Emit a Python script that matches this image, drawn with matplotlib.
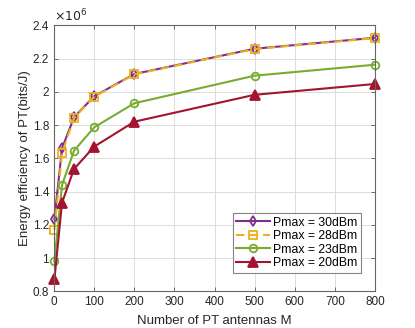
import matplotlib.pyplot as plt
from matplotlib.ticker import FuncFormatter

# Number of PT antennas
antennas = [1, 20, 50, 100, 200, 500, 800]

# Energy efficiency (x 10^6 bits/J)
ee_30dbm = [1.233, 1.66, 1.847, 1.973, 2.107, 2.259, 2.325]
ee_28dbm = [1.169, 1.63, 1.843, 1.970, 2.105, 2.257, 2.323]
ee_23dbm = [0.98, 1.44, 1.646, 1.786, 1.931, 2.097, 2.163]
ee_20dbm = [0.872, 1.333, 1.536, 1.67, 1.82, 1.982, 2.047]

plt.rcParams['font.family'] = ['Liberation Sans', 'DejaVu Sans']

fig = plt.figure(figsize=(4.15, 3.28), dpi=100)
ax = fig.add_axes([54 / 415, 1 - 291.3 / 328, 321 / 415, 266 / 328])

purple = (0.494, 0.184, 0.556)
yellow = (0.929, 0.694, 0.125)
green = (0.466, 0.674, 0.188)
red = (0.635, 0.078, 0.184)

ax.plot(antennas, ee_30dbm, color=purple, lw=1.5, marker='d', ms=5.5,
        mfc='none', mew=1.3, label='Pmax = 30dBm', clip_on=False)
ax.plot(antennas, ee_28dbm, color=yellow, lw=1.5, ls=(0, (4, 2.5)), marker='s', ms=5.5,
        mfc='none', mew=1.3, label='Pmax = 28dBm', clip_on=False)
ax.plot(antennas, ee_23dbm, color=green, lw=1.5, marker='o', ms=5.5,
        mfc='none', mew=1.3, label='Pmax = 23dBm', clip_on=False)
ax.plot(antennas, ee_20dbm, color=red, lw=1.5, marker='^', ms=6.5,
        mfc=red, mew=1.3, label='Pmax = 20dBm', clip_on=False)

ax.set_xlim(0, 800)
ax.set_ylim(0.8, 2.4)
ax.set_xticks(range(0, 801, 100))
ax.set_yticks([0.8, 1.0, 1.2, 1.4, 1.6, 1.8, 2.0, 2.2, 2.4])
ax.yaxis.set_major_formatter(FuncFormatter(lambda v, p: '%g' % round(v, 2)))

ax.grid(True, color='#dcdcdc', lw=0.7)
ax.set_axisbelow(True)
for s in ax.spines.values():
    s.set_color('#666666')
    s.set_linewidth(0.8)
ax.tick_params(direction='in', top=True, right=True, length=3, width=0.6,
               color='#555555', labelsize=8.5, labelcolor='#262626')

ax.set_xlabel('Number of PT antennas M', fontsize=9.5, color='#262626', labelpad=5)
ax.set_ylabel('Energy efficiency of PT(bits/J)', fontsize=9.5, color='#262626', labelpad=1)
ax.text(0.0, 1.005, r'$\times10^{6}$', transform=ax.transAxes, fontsize=9,
        color='#262626', ha='left', va='bottom')

leg = ax.legend(loc='lower right', bbox_to_anchor=(0.956, 0.07), fontsize=8.8,
                frameon=True, fancybox=False, edgecolor='#666666',
                borderpad=0.3, labelspacing=0.12, handlelength=2.8,
                handletextpad=0.2, borderaxespad=0)
leg.get_frame().set_linewidth(0.8)

fig.savefig('out.png', dpi=100)
